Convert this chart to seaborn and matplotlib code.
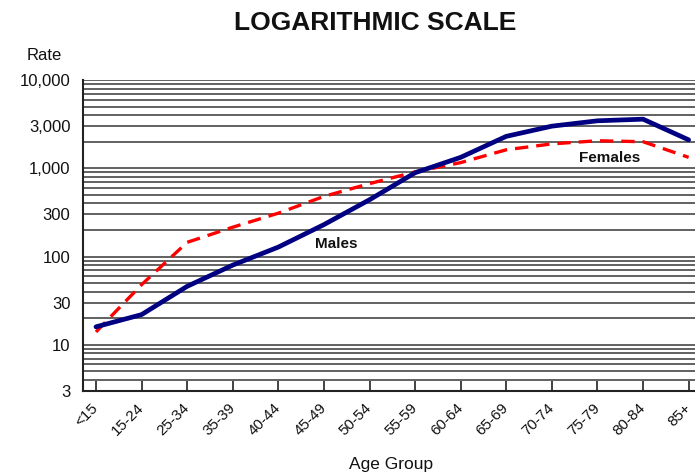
import matplotlib
matplotlib.use("Agg")
import matplotlib.pyplot as plt
from matplotlib.ticker import FixedLocator, LogLocator, NullFormatter
import seaborn as sns
import pandas as pd

age_groups = ["<15", "15-24", "25-34", "35-39", "40-44", "45-49", "50-54",
              "55-59", "60-64", "65-69", "70-74", "75-79", "80-84", "85+"]
males = [16, 22, 46, 80, 128, 230, 440, 890, 1330, 2300, 3000, 3450, 3600, 2100]
females = [14, 48, 145, 215, 310, 480, 670, 910, 1160, 1620, 1890, 2050, 2000, 1330]
y_ticks = [3, 10, 30, 100, 300, 1000, 3000, 10000]

df = pd.DataFrame({"age": age_groups, "Males": males, "Females": females})

sns.set_theme(style="white")
plt.rcParams["font.family"] = ["Liberation Sans", "DejaVu Sans"]

fig = plt.figure(figsize=(6.95, 4.75), dpi=100)
ax = fig.add_axes([83 / 695, 1 - 391 / 475, 1 - 83 / 695, (391 - 80) / 475])

sns.lineplot(data=df, x="age", y="Males", ax=ax, sort=False,
             color="#000080", linewidth=3.4, zorder=4)
sns.lineplot(data=df, x="age", y="Females", ax=ax, sort=False,
             color="#ff0000", linewidth=2.4, dashes=False, zorder=3)
ax.lines[-1].set_dashes((4.0, 2.4))

ax.set_yscale("log")
ax.set_ylim(3, 10000)
ax.set_xlim(-0.285, 13.14)

ax.yaxis.set_major_locator(FixedLocator(y_ticks))
ax.yaxis.set_minor_locator(LogLocator(base=10, subs=range(1, 10), numticks=20))
ax.yaxis.set_minor_formatter(NullFormatter())
ax.set_yticklabels([f"{v:,}" for v in y_ticks], fontsize=12, color="#111111")
ax.tick_params(axis="y", which="both", length=0, pad=9)

# Horizontal rules at every log step
gridline_vals = [m * 10 ** e for e in range(0, 5) for m in range(1, 10)]
gridline_vals = [v for v in gridline_vals if 3 <= v <= 10000]
for v in gridline_vals:
    ax.axhline(v, color="#555555", linewidth=1.3, zorder=1)

ax.set_xticks(range(len(age_groups)))
ax.set_xticklabels(age_groups, rotation=45, ha="right", va="center",
                   rotation_mode="anchor", fontsize=11, color="#111111")
ax.tick_params(axis="x", direction="in", length=7, width=1.2, color="#222222",
               pad=10.5, bottom=True)

for side in ["top", "right"]:
    ax.spines[side].set_visible(False)
for side in ["left", "bottom"]:
    ax.spines[side].set_color("#222222")
    ax.spines[side].set_linewidth(1.5)

ax.set_xlabel("")
ax.set_ylabel("")

ax.text(5.28, 137, "Males", fontsize=11, fontweight="bold", ha="center",
        va="center", color="#111111", zorder=5)
ax.text(11.27, 1300, "Females", fontsize=11, fontweight="bold", ha="center",
        va="center", color="#111111", zorder=5)

fig.text(375 / 695, 1 - 23 / 475, "LOGARITHMIC SCALE", fontsize=19,
         fontweight="bold", ha="center", va="center", color="#111111")
fig.text(44 / 695, 1 - 55 / 475, "Rate", fontsize=12, ha="center",
         va="center", color="#111111")
fig.text(391 / 695, 1 - 465 / 475, "Age Group", fontsize=12.5, ha="center",
         va="center", color="#111111")

fig.savefig("out.png", dpi=100, facecolor="white")
